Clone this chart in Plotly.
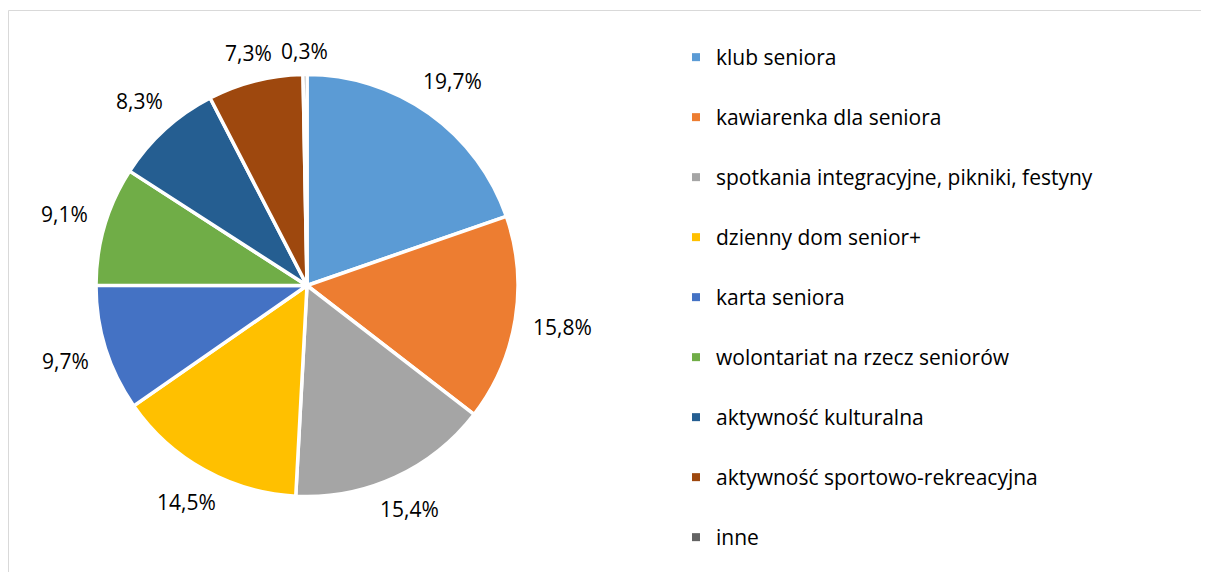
import math
import plotly.graph_objects as go

categories = [
    "klub seniora",
    "kawiarenka dla seniora",
    "spotkania integracyjne, pikniki, festyny",
    "dzienny dom senior+",
    "karta seniora",
    "wolontariat na rzecz seniorów",
    "aktywność kulturalna",
    "aktywność sportowo-rekreacyjna",
    "inne",
]
values = [19.7, 15.8, 15.4, 14.5, 9.7, 9.1, 8.3, 7.3, 0.3]
value_labels = ["19,7%", "15,8%", "15,4%", "14,5%", "9,7%", "9,1%", "8,3%", "7,3%", "0,3%"]
colors = ["#5B9BD5", "#ED7D31", "#A5A5A5", "#FFC000", "#4472C4",
          "#70AD47", "#255E91", "#9E480E", "#636363"]

W, H = 1209, 572
FONT = "Open Sans"
LABEL_SIZE = 21
LEGEND_SIZE = 21

# pie geometry in paper pixels (no margins)
cx, cy, half = 299, 277.5, 211
PX0, PX1, PY0, PY1 = cx - half, cx + half, cy - half, cy + half
r = half - 1.5

fig = go.Figure()
fig.add_trace(go.Pie(
    labels=categories,
    values=values,
    textinfo="none",
    sort=False,
    direction="clockwise",
    rotation=0,
    marker=dict(colors=colors, line=dict(color="white", width=3.5)),
    showlegend=False,
    hoverinfo="label+percent",
    domain=dict(x=[PX0 / W, PX1 / W], y=[1 - PY1 / H, 1 - PY0 / H]),
))

# data labels placed just outside each slice (angles from the values)
def text_width(s, fs):
    w = 0.0
    for ch in s:
        if ch.isdigit():
            w += 0.572
        elif ch == ",":
            w += 0.26
        elif ch == "%":
            w += 0.82
        else:
            w += 0.5
    return w * fs

total = sum(values)
annotations = []
cum = 0.0
for v, lab in zip(values, value_labels):
    mid = (cum + v / 2) / total
    cum += v
    th = 2 * math.pi * mid
    s, c = math.sin(th), -math.cos(th)
    hw = text_width(lab, LABEL_SIZE) / 2
    hh = 5
    d = r + 20 + hw * abs(s) + hh * abs(c)
    px, py = cx + d * s, cy + d * c
    annotations.append(dict(
        x=px / W, y=1 - py / H, xref="paper", yref="paper",
        text=lab, showarrow=False, xanchor="center", yanchor="middle",
        font=dict(family=FONT, size=LABEL_SIZE, color="#000000"),
    ))

# legend entries (one group each so the vertical spacing can be set)
for name, col in zip(categories, colors):
    fig.add_trace(go.Scatter(
        x=[None], y=[None], mode="markers", name=name,
        legendgroup=name,
        marker=dict(symbol="square", size=8, color=col),
        hoverinfo="skip",
    ))

fig.update_layout(
    width=W, height=H,
    margin=dict(l=0, r=0, t=0, b=0, autoexpand=False),
    paper_bgcolor="white", plot_bgcolor="white",
    font=dict(family=FONT, size=LEGEND_SIZE, color="#000000"),
    xaxis=dict(visible=False), yaxis=dict(visible=False),
    legend=dict(
        x=668 / W, y=1 - 29 / H, xanchor="left", yanchor="top",
        font=dict(family=FONT, size=LEGEND_SIZE, color="#000000"),
        tracegroupgap=29.7, itemclick=False, itemdoubleclick=False,
        bgcolor="rgba(0,0,0,0)",
    ),
    annotations=annotations,
    shapes=[dict(
        type="rect", xref="paper", yref="paper",
        x0=0.5 / W, x1=1.05, y0=-0.05, y1=1 - 2.5 / H,
        line=dict(color="#D9D9D9", width=1), fillcolor="rgba(0,0,0,0)",
        layer="below",
    )],
)

fig.write_html("out.html")
